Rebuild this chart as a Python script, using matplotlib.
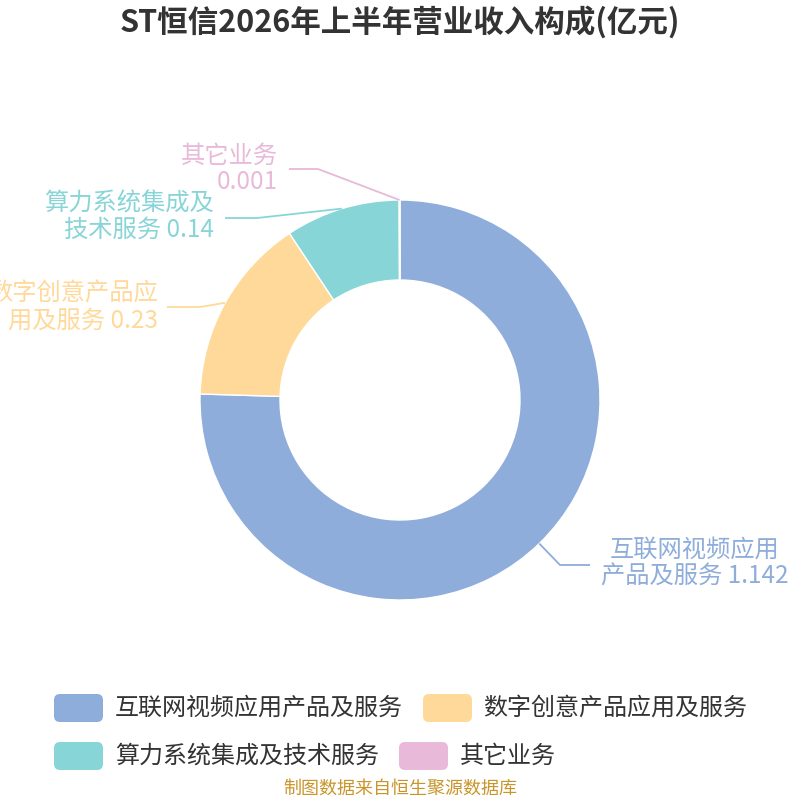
import numpy as np
import matplotlib
matplotlib.use("Agg")
import matplotlib.pyplot as plt
from matplotlib.patches import FancyBboxPatch

plt.rcParams['font.family'] = ['Noto Sans CJK SC', 'DejaVu Sans']

title = "ST恒信2026年上半年营业收入构成(亿元)"
categories = ["互联网视频应用产品及服务", "数字创意产品应用及服务", "算力系统集成及技术服务", "其它业务"]
values = [1.142, 0.23, 0.14, 0.001]
value_labels = ["1.142", "0.23", "0.14", "0.001"]
label_lines = [["互联网视频应用", "产品及服务 1.142"],
               ["数字创意产品应", "用及服务 0.23"],
               ["算力系统集成及", "技术服务 0.14"],
               ["其它业务", "0.001"]]
colors = ["#8EADDA", "#FFD99A", "#88D5D8", "#E8B9D9"]
source = "制图数据来自恒生聚源数据库"

fig = plt.figure(figsize=(8, 8), dpi=100)
ax = fig.add_axes([0, 0, 1, 1])

R = 200
wedges, _ = ax.pie(values, colors=colors, startangle=90, counterclock=False,
                   radius=R, center=(0, 0),
                   wedgeprops=dict(width=80, edgecolor='white', linewidth=1))
ax.set_xlim(-400, 400)
ax.set_ylim(-400, 400)
ax.set_aspect('equal')
ax.axis('off')

def px(x, y):
    return x - 400, 400 - y

# label layout: (elbow px, end px, text anchor px, ha)
layout = [
    ((560, 565), (590, 565), (695, 563), 'center'),
    ((200, 307), (167, 307), (158, 307), 'right'),
    ((257, 218), (225, 218), (214, 217), 'right'),
    ((318, 169), (289, 169), (278, 169), 'right'),
]

for w, lines, col, (elb, end, anc, ha) in zip(wedges, label_lines, colors, layout):
    ang = np.deg2rad((w.theta1 + w.theta2) / 2)
    sx, sy = R * np.cos(ang), R * np.sin(ang)
    ex, ey = px(*elb)
    fx, fy = px(*end)
    ax.plot([sx, ex, fx], [sy, ey, fy], color=col, lw=1.3, solid_capstyle='butt')
    tx, ty = px(*anc)
    ax.text(tx, ty, "\n".join(lines), color=col, fontsize=17.5, ha=ha, va='center',
            multialignment=ha, linespacing=1.02)

fig.text(0.5, 1 - 22 / 800, title, ha='center', va='center', fontsize=22,
         fontweight='bold', color='#333333')

# legend
leg_pos = [(54, 694, 115), (423, 694, 483), (54, 742, 115), (399, 742, 460)]
for cat, col, (bx, by, tx) in zip(categories, colors, leg_pos):
    x0, y0 = px(bx, by + 28)
    box = FancyBboxPatch((x0, y0), 49, 28, boxstyle="round,pad=0,rounding_size=6",
                         facecolor=col, edgecolor='none', clip_on=False)
    ax.add_patch(box)
    ttx, tty = px(tx, by + 14)
    ax.text(ttx, tty, cat, ha='left', va='center', fontsize=17.3, color='#333333')

fig.text(0.5, 1 - 789 / 800, source, ha='center', va='center', fontsize=13, color='#C9952A')

fig.savefig("out.png", dpi=100)
